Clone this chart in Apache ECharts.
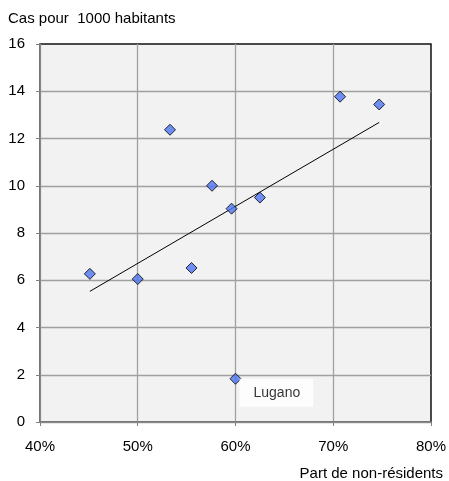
<!DOCTYPE html>
<html>
<head>
<meta charset="utf-8">
<script src="https://cdn.jsdelivr.net/npm/echarts@6/dist/echarts.min.js"></script>
<style>
  html, body { margin: 0; padding: 0; background: #fff; }
  #chart { width: 449px; height: 481px; }
</style>
</head>
<body>
<div id="chart"></div>
<script>
// part de non-résidents (%) et cas pour 1000 habitants
const pctNonResidents = [45.1, 50.0, 53.3, 55.5, 57.6, 59.6, 60.0, 62.5, 70.7, 74.7]
const casesPer1000 = [6.27, 6.05, 12.37, 6.52, 10.0, 9.03, 1.83, 9.5, 13.77, 13.44]
const pointNames = ['', '', '', '', '', '', 'Lugano', '', '', '']

// droite de tendance (extrémités)
const trendX = [45.1, 74.7]
const trendY = [5.53, 12.68]

const xTicks = { min: 40, max: 80, interval: 10 }
const yTicks = { min: 0, max: 16, interval: 2 }

const font = 'Liberation Sans, Arial, sans-serif'

const chart = echarts.init(document.getElementById('chart'))

const scatterData = pctNonResidents.map((x, i) => {
  const item = { value: [x, casesPer1000[i]] }
  if (pointNames[i]) {
    item.label = {
      show: true,
      formatter: pointNames[i],
      position: [10, 6],
      backgroundColor: '#fff',
      padding: [7, 13, 7, 14],
      color: '#000',
      fontSize: 14,
      fontFamily: font
    }
  }
  return item
})

const option = {
  animation: false,
  title: [
    {
      text: 'Cas pour  1000 habitants',
      left: 8,
      top: 11,
      padding: 0,
      textStyle: { fontSize: 15, fontWeight: 'normal', color: '#000', fontFamily: font }
    },
    {
      text: 'Part de non-résidents',
      right: 6,
      top: 466,
      padding: 0,
      textStyle: { fontSize: 15, fontWeight: 'normal', color: '#000', fontFamily: font }
    }
  ],
  grid: {
    left: 40,
    right: 18,
    top: 44,
    bottom: 59,
    show: true,
    backgroundColor: '#f2f2f2',
    borderColor: '#111',
    borderWidth: 1.5
  },
  xAxis: {
    type: 'value',
    min: xTicks.min,
    max: xTicks.max,
    interval: xTicks.interval,
    axisLine: { show: true, lineStyle: { color: '#808080', width: 1.5 } },
    axisTick: { show: true, inside: false, length: 4, lineStyle: { color: '#808080' } },
    axisLabel: {
      formatter: '{value}%',
      margin: 17,
      color: '#000',
      fontSize: 15,
      fontFamily: font
    },
    splitLine: { show: true, showMaxLine: false, lineStyle: { color: '#a0a0a0', width: 1.3 } }
  },
  yAxis: {
    type: 'value',
    min: yTicks.min,
    max: yTicks.max,
    interval: yTicks.interval,
    axisLine: { show: true, lineStyle: { color: '#808080', width: 1.5 } },
    axisTick: { show: true, inside: false, length: 4, lineStyle: { color: '#808080' } },
    axisLabel: {
      margin: 15,
      color: '#000',
      fontSize: 15,
      fontFamily: font
    },
    splitLine: { show: true, showMaxLine: false, lineStyle: { color: '#a0a0a0', width: 1.3 } }
  },
  series: [
    {
      type: 'line',
      data: trendX.map((x, i) => [x, trendY[i]]),
      symbol: 'none',
      lineStyle: { color: '#000', width: 1 },
      z: 2
    },
    {
      type: 'scatter',
      data: scatterData,
      symbol: 'diamond',
      symbolSize: 11,
      itemStyle: { color: '#4d74f0', borderColor: '#000', borderWidth: 1 },
      z: 3
    }
  ]
}

chart.setOption(option)
</script>
</body>
</html>
